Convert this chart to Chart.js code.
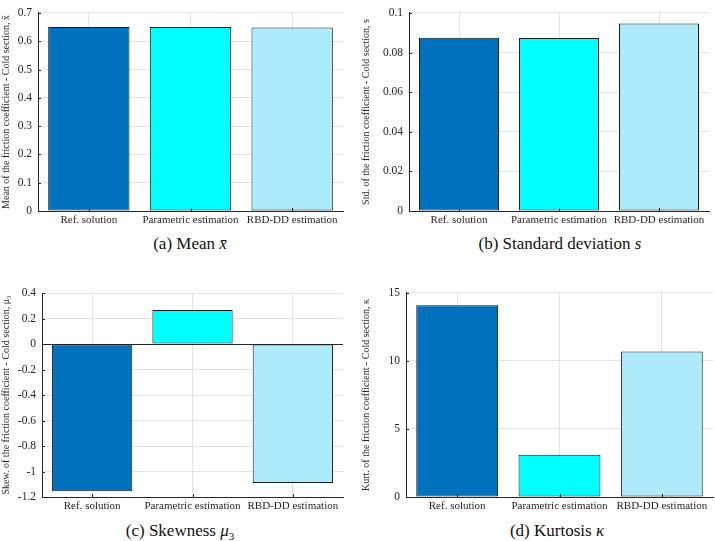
<!DOCTYPE html>
<html>
<head>
<meta charset="utf-8">
<script src="https://cdn.jsdelivr.net/npm/chart.js@4.4.0/dist/chart.umd.min.js"></script>
<style>
	body { margin: 0; background: #fff; width: 715px; height: 541px; position: relative; overflow: hidden; }
	canvas { position: absolute; }
	.cap { position: absolute; font-family: "Liberation Serif", "DejaVu Serif", serif; font-size: 17px; color: #111; text-align: center; white-space: nowrap; }
	.cap i { font-style: italic; }
</style>
</head>
<body>
<canvas id="cMean"></canvas>
<canvas id="cStd"></canvas>
<canvas id="cSkew"></canvas>
<canvas id="cKurt"></canvas>
<div class="cap" style="left:90px; top:234px; width:200px;">(a) Mean <i>x̄</i></div>
<div class="cap" style="left:410px; top:234px; width:300px;">(b) Standard deviation <i>s</i></div>
<div class="cap" style="left:80px; top:521px; width:200px;">(c) Skewness <i>μ</i><sub style="font-size:11px">3</sub></div>
<div class="cap" style="left:457px; top:521px; width:200px;">(d) Kurtosis <i>κ</i></div>

<script>
var labels = ['Ref. solution', 'Parametric estimation', 'RBD-DD estimation'];
var colors = ['#0072BD', '#00FFFF', '#ADEBFB'];

var meanVals = [0.650, 0.650, 0.648];
var stdVals = [0.0874, 0.0873, 0.0947];
var skewVals = [-1.155, 0.266, -1.09];
var kurtVals = [14.09, 3.10, 10.70];

var meanTicks = [0, 0.7, 0.1];
var stdTicks = [0, 0.1, 0.02];
var skewTicks = [-1.2, 0.4, 0.2];
var kurtTicks = [0, 15, 5];

var font = "'Liberation Serif', 'DejaVu Serif', serif";

// matlab style small ticks pointing into the plot
var inwardTicks = {
	id: 'inwardTicks',
	afterDraw: function(chart) {
		var ctx = chart.ctx, a = chart.chartArea;
		var x = chart.scales.x, y = chart.scales.y;
		ctx.save();
		ctx.strokeStyle = '#262626';
		ctx.lineWidth = 1;
		ctx.beginPath();
		y.ticks.forEach(function(t, i) {
			var p = Math.round(y.getPixelForTick(i)) + 0.5;
			ctx.moveTo(a.left, p); ctx.lineTo(a.left + 3, p);
		});
		x.ticks.forEach(function(t, i) {
			var p = Math.round(x.getPixelForTick(i)) + 0.5;
			ctx.moveTo(p, a.bottom); ctx.lineTo(p, a.bottom - 3);
		});
		ctx.stroke();
		ctx.restore();
	}
};

// box: canvas left/top/width/height, plot: left/top/right/bottom (page px)
function makePanel(id, box, plot, vals, ticks, yTitle) {
	var el = document.getElementById(id);
	el.style.left = box[0] + 'px';
	el.style.top = box[1] + 'px';
	el.width = box[2];
	el.height = box[3];
	el.style.width = box[2] + 'px';
	el.style.height = box[3] + 'px';
	var yW = plot[0] - box[0];
	var xH = (box[1] + box[3]) - plot[3];

	return new Chart(el, {
		type: 'bar',
		data: {
			labels: labels,
			datasets: [{
				data: vals,
				backgroundColor: colors,
				borderColor: '#1a1a1a',
				borderWidth: 1,
				borderSkipped: false,
				barPercentage: 1,
				categoryPercentage: 0.8
			}]
		},
		options: {
			responsive: false,
			animation: false,
			events: [],
			layout: { padding: { top: plot[1] - box[1], right: (box[0] + box[2]) - plot[2], left: 0, bottom: 0 } },
			plugins: { legend: { display: false }, tooltip: { enabled: false } },
			scales: {
				x: {
					grid: { offset: false, color: '#e3e3e3', drawTicks: false },
					border: { display: true, color: '#262626', width: 1 },
					ticks: { font: { family: font, size: 11 }, color: '#262626', padding: 3, maxRotation: 0, autoSkip: false },
					afterFit: function(s) { s.height = xH; }
				},
				y: {
					min: ticks[0],
					max: ticks[1],
					grid: {
						drawTicks: false,
						color: function(c) { return (c.tick && c.tick.value === 0 && ticks[0] < 0) ? '#262626' : '#e3e3e3'; }
					},
					border: { display: true, color: '#262626', width: 1 },
					ticks: {
						stepSize: ticks[2],
						font: { family: font, size: 11.5 },
						color: '#262626',
						padding: 6,
						callback: function(v) { return +v.toFixed(4); }
					},
					title: { display: true, text: yTitle, font: { family: font, size: 10 }, color: '#262626', padding: { top: 0, bottom: 2 } },
					afterFit: function(s) { s.width = yW; }
				}
			}
		},
		plugins: [inwardTicks]
	});
}

makePanel('cMean', [0, 0, 350, 230], [38, 5, 343, 211], meanVals, meanTicks,
	'Mean of the friction coefficient - Cold section, x̄');
makePanel('cStd', [360, 0, 353, 230], [409, 8, 709, 211], stdVals, stdTicks,
	'Std. of the friction coefficient - Cold section, s');
makePanel('cSkew', [0, 280, 350, 237], [42, 293, 343, 497], skewVals, skewTicks,
	'Skew. of the friction coefficient - Cold section, μ₃');
makePanel('cKurt', [360, 280, 355, 237], [406, 289, 713, 497], kurtVals, kurtTicks,
	'Kurt. of the friction coefficient - Cold section, κ');
</script>
</body>
</html>
